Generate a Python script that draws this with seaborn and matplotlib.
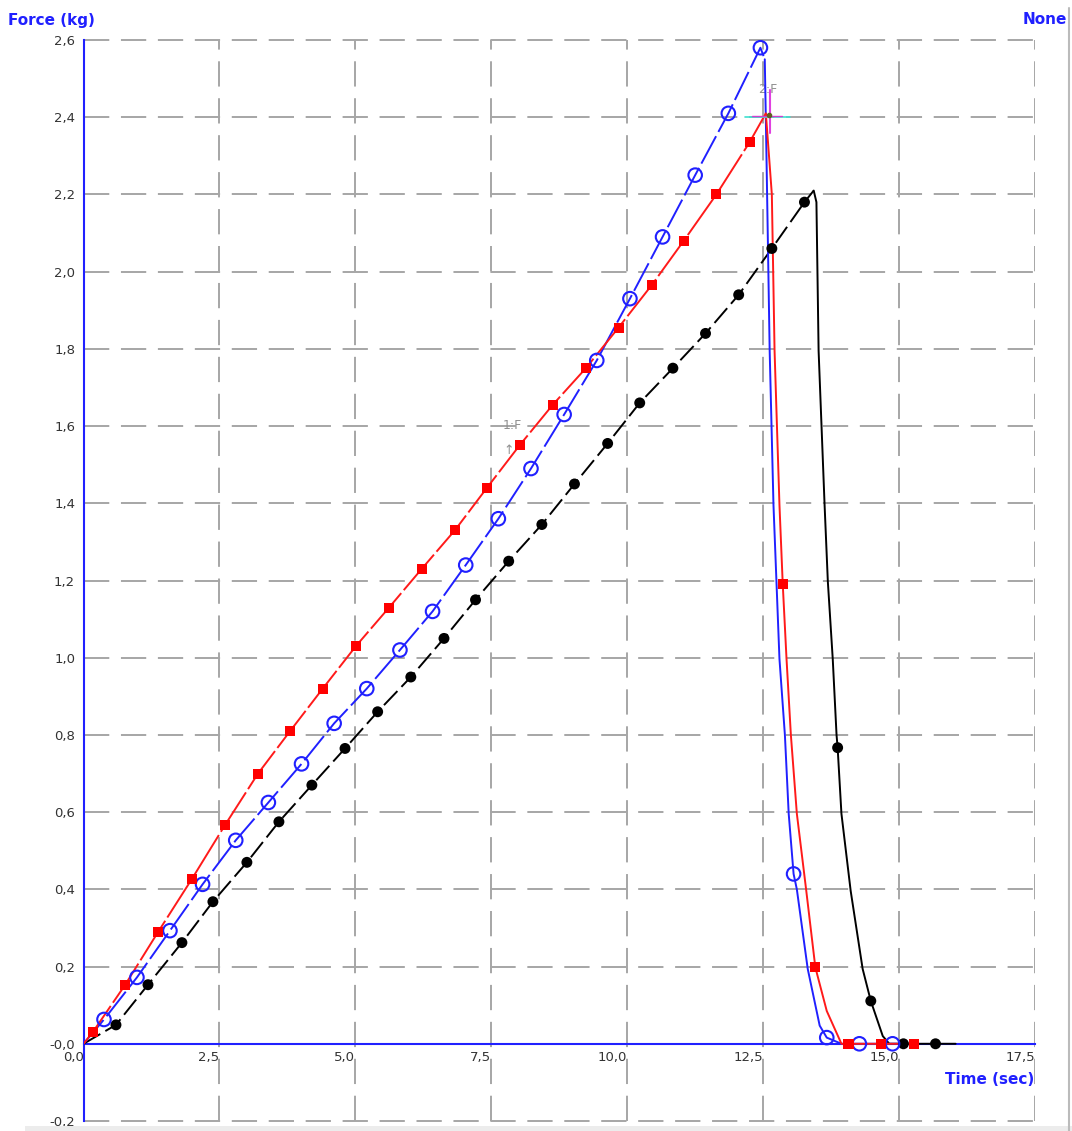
import matplotlib
matplotlib.use("Agg")
import matplotlib.pyplot as plt
import seaborn as sns
import pandas as pd
from matplotlib.lines import Line2D

# marker samples (time in s, force in kg)
red_t = [0.175, 0.763, 1.369, 1.994, 2.60, 3.21, 3.80, 4.40, 5.01, 5.62, 6.22, 6.83, 7.42,
         8.02, 8.63, 9.24, 9.84, 10.45, 11.04, 11.64, 12.25, 12.86, 13.46, 14.07, 14.66, 15.27]
red_f = [0.031, 0.152, 0.289, 0.427, 0.566, 0.70, 0.81, 0.92, 1.03, 1.13, 1.23, 1.33, 1.44,
         1.55, 1.655, 1.75, 1.855, 1.965, 2.08, 2.20, 2.335, 1.192, 0.198, 0.0, 0.0, 0.0]

blue_t = [0.377, 0.983, 1.59, 2.19, 2.80, 3.40, 4.01, 4.61, 5.21, 5.82, 6.42, 7.03, 7.63,
          8.23, 8.84, 9.44, 10.05, 10.65, 11.25, 11.86, 12.45, 13.06, 13.67, 14.27, 14.88]
blue_f = [0.063, 0.172, 0.293, 0.413, 0.527, 0.625, 0.725, 0.83, 0.92, 1.02, 1.12, 1.24, 1.36,
          1.49, 1.63, 1.77, 1.93, 2.09, 2.25, 2.41, 2.58, 0.44, 0.016, 0.0, 0.0]

black_t = [0.597, 1.186, 1.81, 2.38, 3.005, 3.594, 4.20, 4.81, 5.41, 6.02, 6.63, 7.21, 7.82,
           8.43, 9.03, 9.64, 10.23, 10.84, 11.44, 12.05, 12.66, 13.26, 13.87, 14.48, 15.08, 15.67]
black_f = [0.049, 0.153, 0.262, 0.368, 0.47, 0.575, 0.67, 0.765, 0.86, 0.95, 1.05, 1.15, 1.25,
           1.345, 1.45, 1.555, 1.66, 1.75, 1.84, 1.94, 2.06, 2.18, 0.767, 0.111, 0.0, 0.0]

# extra points of the traces after the last rising marker (peak and unloading)
red_peak_t = [12.55, 12.66, 12.71, 12.80, 12.86, 12.93, 13.01, 13.12, 13.29, 13.46, 13.67, 13.94, 15.35]
red_peak_f = [2.41, 2.20, 1.795, 1.396, 1.192, 0.997, 0.80, 0.596, 0.40, 0.198, 0.085, 0.0, 0.0]

blue_peak_t = [12.53, 12.56, 12.62, 12.69, 12.80, 12.90, 12.97, 13.06, 13.12, 13.32, 13.54, 13.67, 13.94, 15.0]
blue_peak_f = [2.55, 2.31, 1.795, 1.396, 0.997, 0.80, 0.596, 0.44, 0.40, 0.194, 0.047, 0.016, 0.0, 0.0]

black_peak_t = [13.43, 13.48, 13.52, 13.63, 13.69, 13.78, 13.85, 13.87, 13.94, 14.11, 14.33,
                14.48, 14.70, 14.82, 16.04]
black_peak_f = [2.21, 2.18, 1.795, 1.396, 1.197, 0.997, 0.80, 0.767, 0.596, 0.396, 0.194,
                0.111, 0.02, 0.0, 0.0]

x_ticks = [0, 2.5, 5.0, 7.5, 10.0, 12.5, 15.0, 17.5]
x_tick_labels = ["0,0", "2,5", "5,0", "7,5", "10,0", "12,5", "15,0", "17,5"]
y_ticks = [-0.2, 0.0, 0.2, 0.4, 0.6, 0.8, 1.0, 1.2, 1.4, 1.6, 1.8, 2.0, 2.2, 2.4, 2.6]
y_tick_labels = ["-0,2", "-0,0", "0,2", "0,4", "0,6", "0,8", "1,0", "1,2", "1,4", "1,6",
                 "1,8", "2,0", "2,2", "2,4", "2,6"]


def rise(t, f, pt, pf):
    # origin + markers before the peak, up to the first unloading point
    n = len([v for v in t if v < pt[0]])
    return pd.DataFrame({"t": [0.0] + t[:n] + pt[:1], "f": [0.0] + f[:n] + pf[:1]})


def fall(pt, pf):
    return pd.DataFrame({"t": pt, "f": pf})


sns.set_style("white")
plt.rcParams["font.family"] = ["DejaVu Sans"]

fig = plt.figure(figsize=(10.72, 11.31), dpi=100)
ax = fig.add_axes([83.5 / 1072, 10 / 1131, (1035 - 83.5) / 1072, (1121 - 40) / 1131])

blue_c = "#2020ff"
red_c = "#ff1a1a"
grid_c = "#a6a6a6"

series = [
    (black_t, black_f, black_peak_t, black_peak_f, "black", (0, (10, 3)), 3),
    (blue_t, blue_f, blue_peak_t, blue_peak_f, blue_c, (0, (16, 2.5)), 4),
    (red_t, red_f, red_peak_t, red_peak_f, red_c, (0, (24, 2)), 5),
]
for t, f, pt, pf, c, ls, z in series:
    sns.lineplot(data=rise(t, f, pt, pf), x="t", y="f", sort=False, estimator=None,
                 color=c, linewidth=1.4, linestyle=ls, ax=ax, zorder=z)
    sns.lineplot(data=fall(pt, pf), x="t", y="f", sort=False, estimator=None,
                 color=c, linewidth=1.4, ax=ax, zorder=z)

sns.scatterplot(x=black_t, y=black_f, marker="o", s=62, color="black", edgecolor="none",
                ax=ax, zorder=6)
sns.scatterplot(x=blue_t, y=blue_f, marker="o", s=95, facecolors="none", edgecolors=blue_c,
                linewidth=1.5, ax=ax, zorder=7)
sns.scatterplot(x=red_t, y=red_f, marker="s", s=52, color="#ff0000", edgecolor="none",
                ax=ax, zorder=8)

# crosshair / markers drawn by the test software
ax.plot([12.16, 12.99], [2.401, 2.401], color="#40e0d0", lw=1.2, zorder=9)
ax.plot([12.30, 12.85], [2.403, 2.403], color="#d040d0", lw=1.0, zorder=9)
ax.plot([12.62, 12.62], [2.36, 2.47], color="#e040e0", lw=1.5, zorder=9)
ax.plot([12.60], [2.405], marker="o", ms=3, color="#606020", zorder=10)
ax.text(12.58, 2.455, "2:F", color="#909090", fontsize=9, ha="center", va="bottom")
ax.text(7.88, 1.585, "1:F", color="#909090", fontsize=9, ha="center", va="bottom")
ax.text(7.82, 1.52, "\u2191", color="#909090", fontsize=9, ha="center", va="bottom")

ax.set_xlim(0, 17.5)
ax.set_ylim(-0.2, 2.6)
ax.set_xticks(x_ticks)
ax.set_xticklabels(x_tick_labels)
ax.set_yticks(y_ticks)
ax.set_yticklabels(y_tick_labels)
ax.set_xlabel("")
ax.set_ylabel("")

ax.grid(True, color=grid_c, linestyle=(0, (13, 6)), linewidth=1.4)
for gl in ax.get_xgridlines() + ax.get_ygridlines():
    gl.set_clip_on(False)
ax.set_axisbelow(True)

for side in ["top", "right"]:
    ax.spines[side].set_visible(False)
ax.spines["left"].set_color(blue_c)
ax.spines["left"].set_linewidth(1.5)
ax.spines["bottom"].set_position(("data", 0))
ax.spines["bottom"].set_color(blue_c)
ax.spines["bottom"].set_linewidth(1.5)

ax.tick_params(axis="both", length=0, labelsize=9.5, labelcolor="#333333")
ax.tick_params(axis="y", pad=6)
ax.tick_params(axis="x", pad=5)
for lab in ax.get_xticklabels():
    lab.set_horizontalalignment("right")
ax.patch.set_alpha(0)

fig.text(8 / 1072, 1 - 20 / 1131, "Force (kg)", color=blue_c, fontsize=11, fontweight="bold",
         ha="left", va="center")
fig.text(1067 / 1072, 1 - 20 / 1131, "None", color=blue_c, fontsize=11, fontweight="bold",
         ha="right", va="center")
fig.text(1034 / 1072, 1 - 1080 / 1131, "Time (sec)", color=blue_c, fontsize=11,
         fontweight="bold", ha="right", va="center")

# window frame of the original screenshot
fig.add_artist(Line2D([1069 / 1072, 1069 / 1072], [0, 1 - 8 / 1131], color="#bbbbbb", lw=1.5))
fig.add_artist(plt.Rectangle((25 / 1072, 0), 1, 5 / 1131, color="#ececec", lw=0))

fig.savefig("out.png", dpi=100)
